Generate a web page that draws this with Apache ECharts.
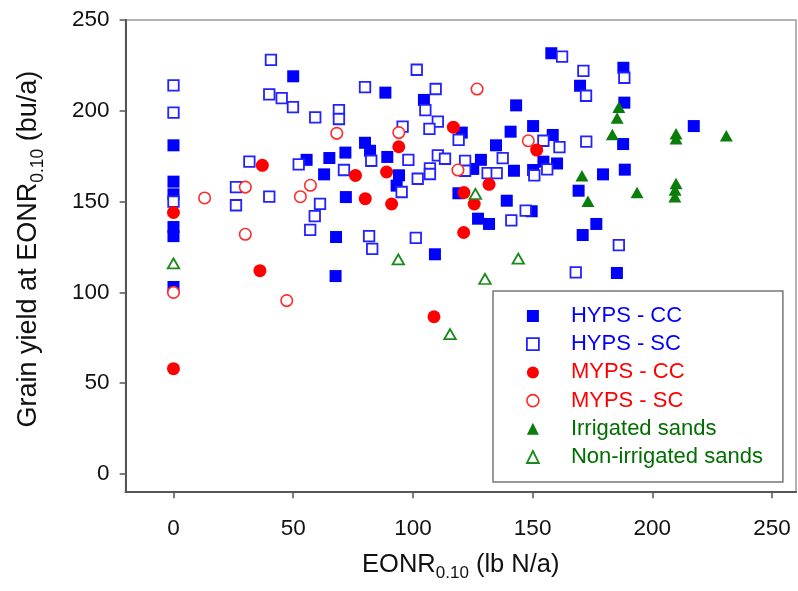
<!DOCTYPE html>
<html><head><meta charset="utf-8">
<script src="https://cdn.jsdelivr.net/npm/echarts@6/dist/echarts.min.js"></script>
<style>html,body{margin:0;padding:0;background:#fff}#c{width:798px;height:591px}</style>
</head><body><div id="c"></div>
<script>
const seriesNames = ['HYPS - CC', 'HYPS - SC', 'MYPS - CC', 'MYPS - SC', 'Irrigated sands', 'Non-irrigated sands'];
const xTicks = [0, 50, 100, 150, 200, 250];
const yTicks = [0, 50, 100, 150, 200, 250];

const hypsCC = [
  [0,181],[0,161],[0,154],[0,136],[0,131],[0,103],
  [50,219],[55.6,173],[65.1,174],[71.8,177],[62.9,165],[72,152.5],[67.9,130.5],[67.7,109],
  [88.5,210],[104.6,206],[143.1,203],[120.4,188],[140.8,188.5],[150.2,191.6],[158.4,186.7],
  [80,182.4],[82.1,178],[89.3,174.6],[134.7,181],[128.4,173],[125.2,168],[142.2,167],[150.2,167.4],[154.5,172],[160.2,171],
  [94.2,164.5],[93.2,158.8],[119,154.6],[139.2,150.5],[127.2,140.6],[131.8,137.7],[149.6,144.7],[109.2,121],
  [157.8,231.7],[169.8,213.8],[187.9,223.7],[188.3,204.5],[187.8,181.7],[217.3,191.6],[179.4,165],[188.5,167.6],
  [169.2,156],[176.6,137.7],[170.9,131.6],[185.2,110.7]
];
const hypsSC = [
  [0,214],[0,199],[0,150],
  [40.7,228],[40,209],[45.2,207],[49.9,202],[59.2,196.4],[69.1,200.4],[69.1,195.5],
  [31.7,172],[52.3,170.5],[71.2,167.4],[26.1,158],[26.1,148],[40,152.7],[61.2,148.8],[59,142],[57.1,134.4],
  [80,213],[101.6,222.6],[109.5,212],[105.2,200.4],[110.4,194],[106.9,190],[95.7,191.3],[119.1,184],[154.5,183.5],[161.2,180],
  [82.6,172.5],[98.1,173],[110.4,175.5],[113.4,173.6],[137.5,174],[121.8,172.4],[121.8,167],[131.2,165.7],[135,165.7],[150.7,164.5],[156.1,167.8],
  [95.3,155.3],[107.1,168.3],[107.1,165.2],[102,162.6],[141.1,139.7],[147.1,145],[81.7,131],[101.2,130],[83,124],
  [162.3,229.8],[171.2,222],[172.3,208.3],[188.3,218.2],[172.4,183],[168,111],[186,126]
];
const mypsCC = [
  [0,144],[0,58],[37.1,170],[36.1,112],[76,164.4],[116.9,191],[94.1,180.2],[151.7,178.4],
  [89,166.3],[80.1,151.6],[91.1,148.7],[121.3,155],[125.6,148.7],[131.8,159.5],[121.2,133],[108.8,86.6]
];
const mypsSC = [
  [0,100],[13,152],[30,158],[30,132],[47.3,95.5],[53,152.7],[57.2,159],[68.2,187.6],[94.1,188],[126.8,212],[148.2,183.5],[118.8,167.4]
];
const irrigated = [
  [170.6,164.3],[173.1,150.2],[186,202],[185.3,196],[183.3,187],[193.6,155],[209.9,187.3],[209.9,184.6],
  [209.9,160],[209.5,156.4],[209.4,152.7],[230.9,186.3]
];
const nonIrrigated = [
  [0,116],[93.9,118.2],[126.1,154.2],[130.1,107.4],[144,118.6],[115.5,77]
];

const BLUE = '#0000ff', BLUE2 = '#2222ff', RED = '#ff0000', RED2 = '#ff2a2a', GREEN = '#0a7d0a', GREEN2 = '#1a8a1a', GTEXT = '#006e00';
const FONT = 'Liberation Sans, Arial, sans-serif';

const chart = echarts.init(document.getElementById('c'), null, {renderer: 'canvas'});

const xRich = {
  a: {fontSize: 25.5, fontFamily: FONT, color: '#111'},
  s: {fontSize: 17, fontFamily: FONT, color: '#111', padding: [18, 0, 0, 0]}
};
const yRich = {
  a: {fontSize: 27, fontFamily: FONT, color: '#111'},
  s: {fontSize: 17.5, fontFamily: FONT, color: '#111', padding: [20, 0, 0, 0]}
};

chart.setOption({
  animation: false,
  backgroundColor: '#fff',
  grid: {left: 125.6, top: 20, right: 2, bottom: 98.8, show: true, borderColor: '#999', borderWidth: 1.5, containLabel: false},
  xAxis: {
    type: 'value', min: -20, max: 260,
    axisLine: {show: true, onZero: false, lineStyle: {color: '#555', width: 2}},
    axisTick: {show: true, inside: false, length: 6, customValues: xTicks, lineStyle: {color: '#555', width: 1.5}},
    axisLabel: {customValues: xTicks, fontSize: 22.5, fontFamily: FONT, color: '#111', margin: 25},
    splitLine: {show: false},
    name: '{a|EONR}{s|0.10}{a| (lb N/a)}', nameLocation: 'middle', nameGap: 55,
    nameTextStyle: {rich: xRich}
  },
  yAxis: {
    type: 'value', min: -10, max: 250,
    axisLine: {show: true, onZero: false, lineStyle: {color: '#555', width: 2}},
    axisTick: {show: true, inside: false, length: 6, customValues: yTicks, lineStyle: {color: '#555', width: 1.5}},
    axisLabel: {customValues: yTicks, fontSize: 22.5, fontFamily: FONT, color: '#111', margin: 16},
    splitLine: {show: false},
    name: '{a|Grain yield at EONR}{s|0.10}{a| (bu/a)}', nameLocation: 'middle', nameGap: 78,
    nameTextStyle: {rich: yRich, padding: [0, 0, 0, 14]}
  },
  legend: {
    orient: 'vertical', left: 493, top: 291, padding: [14, 20, 14, 33],
    itemWidth: 12, itemHeight: 12, itemGap: 6.2,
    borderColor: '#777', borderWidth: 1.5, backgroundColor: '#fff',
    textStyle: {fontSize: 22, fontFamily: FONT, padding: [0, 0, 0, 27]},
    data: [
      {name: seriesNames[0], icon: 'rect', itemStyle: {color: BLUE, borderWidth: 0}, textStyle: {color: BLUE}},
      {name: seriesNames[1], icon: 'rect', itemStyle: {color: '#fff', borderColor: BLUE2, borderWidth: 1.8}, textStyle: {color: BLUE}},
      {name: seriesNames[2], icon: 'circle', itemStyle: {color: RED, borderWidth: 0}, textStyle: {color: RED}},
      {name: seriesNames[3], icon: 'circle', itemStyle: {color: '#fff', borderColor: RED2, borderWidth: 1.6}, textStyle: {color: RED}},
      {name: seriesNames[4], icon: 'triangle', itemStyle: {color: GREEN, borderWidth: 0}, textStyle: {color: GTEXT}},
      {name: seriesNames[5], icon: 'triangle', itemStyle: {color: '#fff', borderColor: GREEN2, borderWidth: 1.8}, textStyle: {color: GTEXT}}
    ]
  },
  series: [
    {name: seriesNames[0], type: 'scatter', data: hypsCC, symbol: 'rect', symbolSize: 12, itemStyle: {color: BLUE, opacity: 1}},
    {name: seriesNames[1], type: 'scatter', data: hypsSC, symbol: 'rect', symbolSize: 10.5, itemStyle: {color: '#fff', borderColor: BLUE2, borderWidth: 1.8, opacity: 1}},
    {name: seriesNames[2], type: 'scatter', data: mypsCC, symbol: 'circle', symbolSize: 13, itemStyle: {color: RED, opacity: 1}},
    {name: seriesNames[3], type: 'scatter', data: mypsSC, symbol: 'circle', symbolSize: 11.5, itemStyle: {color: '#fff', borderColor: RED2, borderWidth: 1.6, opacity: 1}},
    {name: seriesNames[4], type: 'scatter', data: irrigated, symbol: 'triangle', symbolSize: [13, 11.5], itemStyle: {color: GREEN, opacity: 1}},
    {name: seriesNames[5], type: 'scatter', data: nonIrrigated, symbol: 'triangle', symbolSize: [11.5, 10], itemStyle: {color: '#fff', borderColor: GREEN2, borderWidth: 1.8, opacity: 1}}
  ]
});
</script>
</body></html>
